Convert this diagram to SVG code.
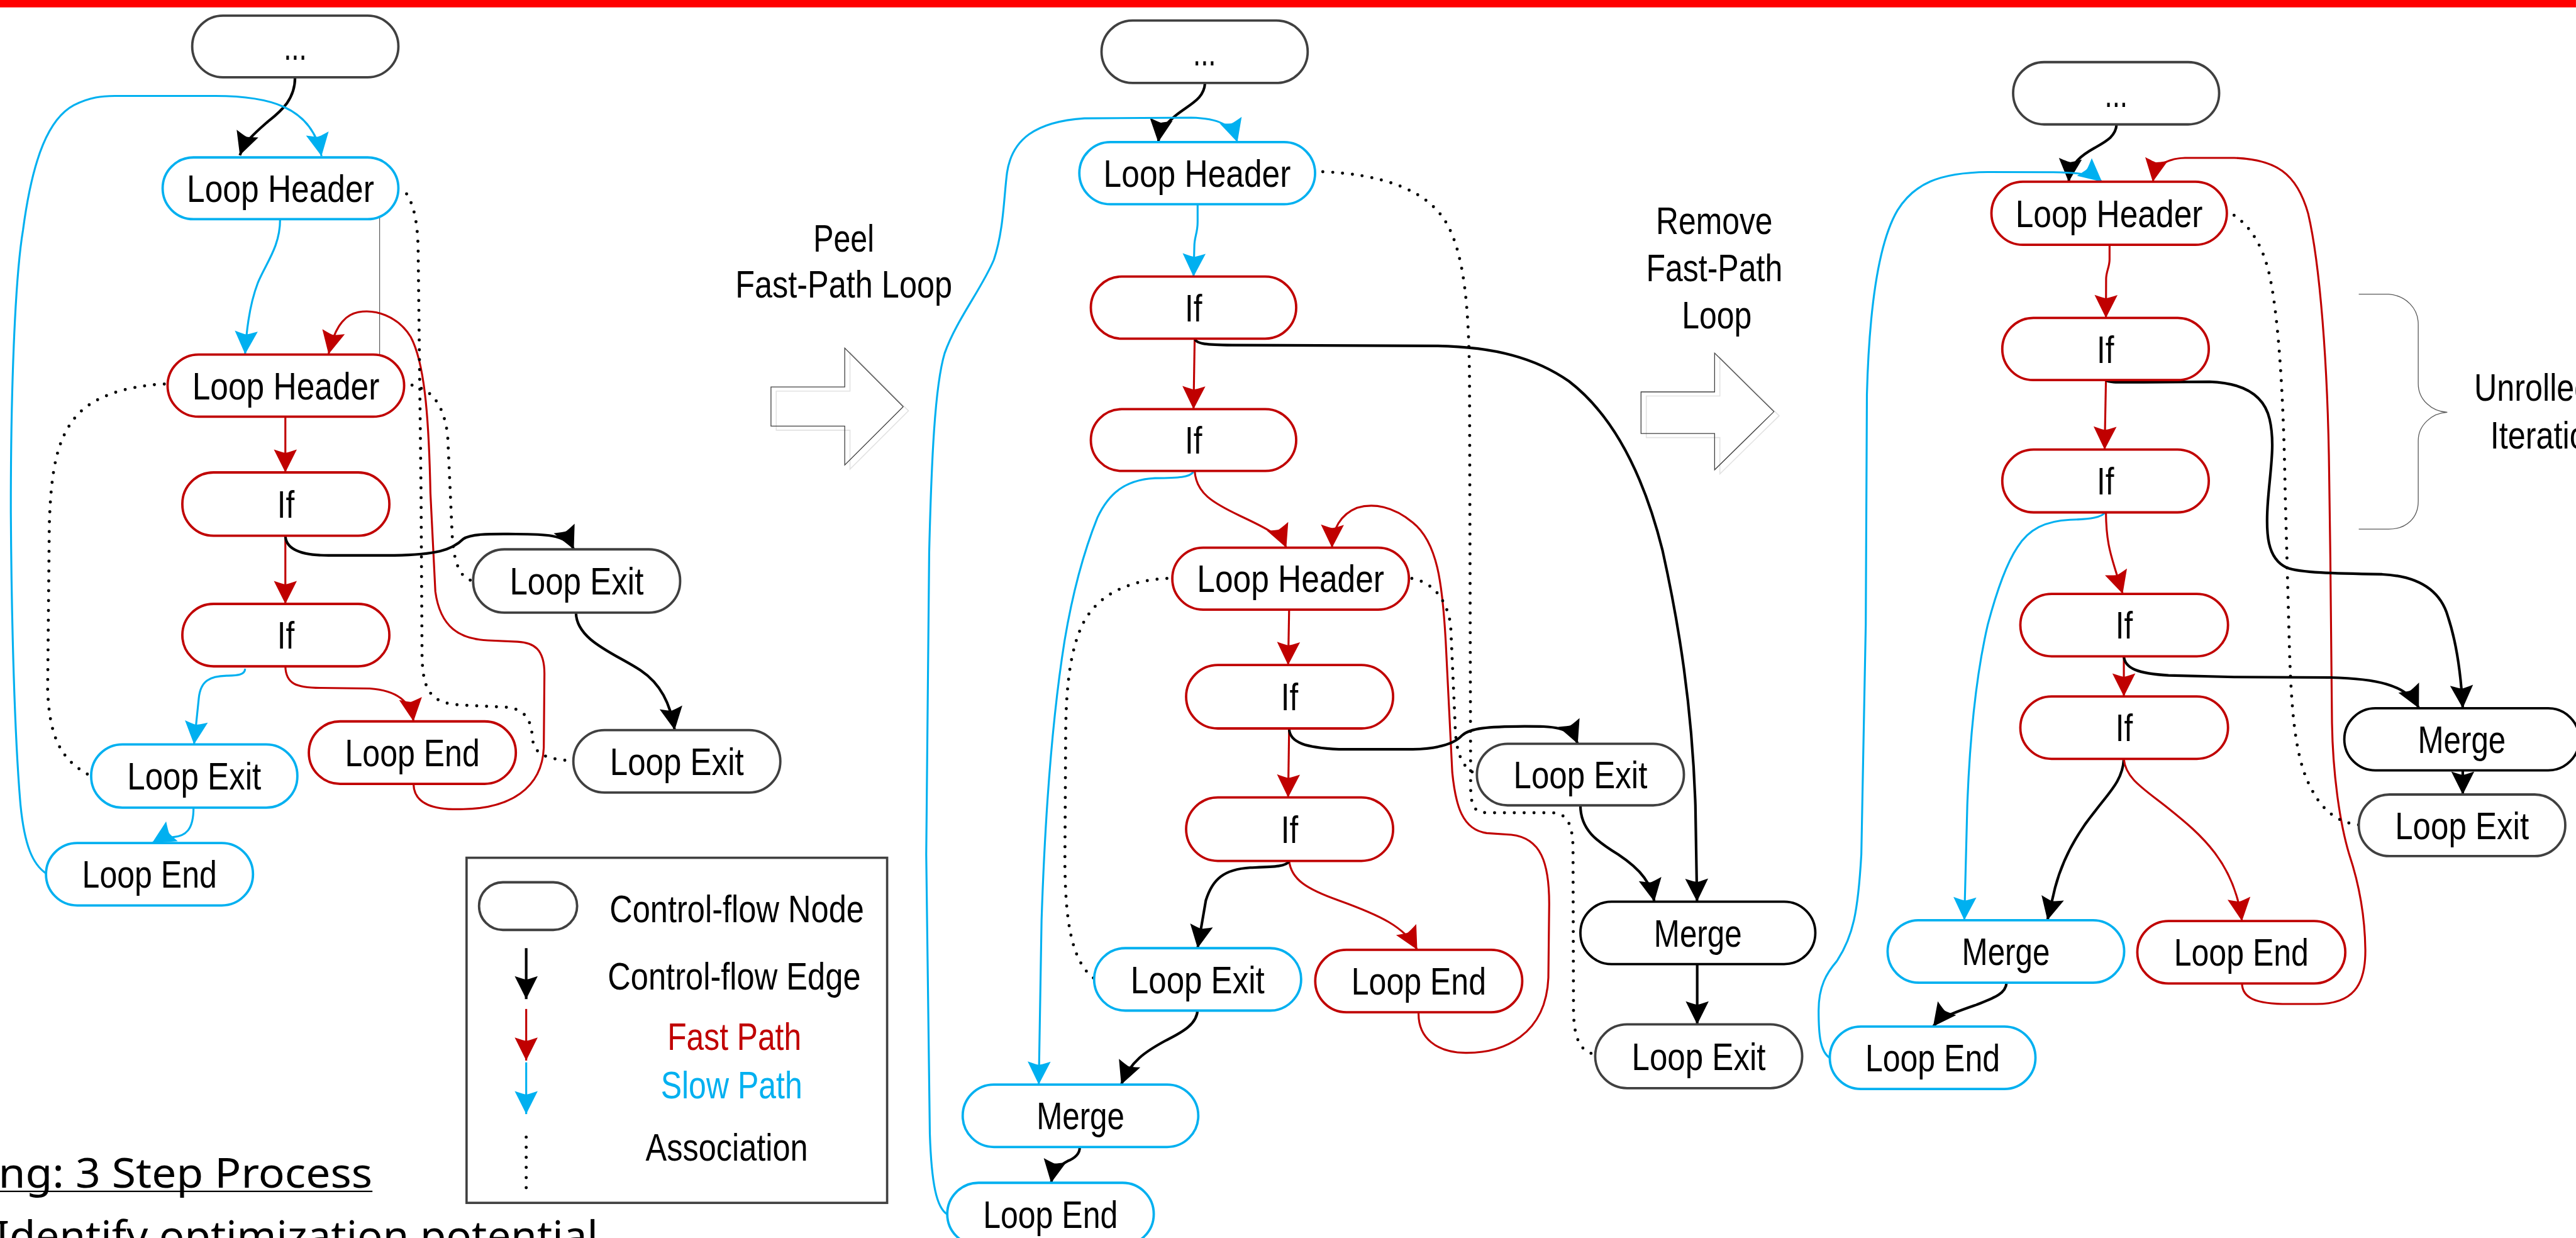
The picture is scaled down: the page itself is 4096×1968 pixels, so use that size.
<svg xmlns="http://www.w3.org/2000/svg" width="4096" height="1968" viewBox="0 0 4096 1968">
<style>
.n{fill:#fff;stroke-width:1.45}
.g{stroke:#404040}.b{stroke:#00B0F0}.r{stroke:#C00000}.k{stroke:#000}
.t{font-family:"Liberation Sans Narrow","Arial Narrow","Liberation Sans",Arial,sans-serif;font-size:23.5px;text-anchor:middle;fill:#000}
.ek{fill:none;stroke:#000;stroke-width:1.6;marker-end:url(#mk)}
.er{fill:none;stroke:#C00000;stroke-width:1.2;marker-end:url(#mr)}
.eb{fill:none;stroke:#00B0F0;stroke-width:1.2;marker-end:url(#mb)}
.d{fill:none;stroke:#000;stroke-width:1.9;stroke-dasharray:0 6;stroke-linecap:round}
.big{fill:none;stroke:#404040;stroke-width:0.5}
.sh{fill:none;stroke:#e2e2e2;stroke-width:0.6}
</style>
<defs>
<marker id="mk" markerUnits="userSpaceOnUse" viewBox="-15 -8 16 16" refX="0" refY="0" markerWidth="16" markerHeight="16" orient="auto" overflow="visible"><path d="M0,0 L-14,-7 Q-12,-1 -12,0 Q-12,1 -14,7 Z" fill="#000"/></marker>
<marker id="mr" markerUnits="userSpaceOnUse" viewBox="-15 -8 16 16" refX="0" refY="0" markerWidth="16" markerHeight="16" orient="auto" overflow="visible"><path d="M0,0 L-14,-7 Q-12,-1 -12,0 Q-12,1 -14,7 Z" fill="#C00000"/></marker>
<marker id="mb" markerUnits="userSpaceOnUse" viewBox="-15 -8 16 16" refX="0" refY="0" markerWidth="16" markerHeight="16" orient="auto" overflow="visible"><path d="M0,0 L-14,-7 Q-12,-1 -12,0 Q-12,1 -14,7 Z" fill="#00B0F0"/></marker>
</defs>
<rect width="4096" height="1968" fill="#fff"/>
<g transform="scale(2.6122)">
<rect x="0" y="0" width="1568" height="4.5" fill="#FF0000"/>

<!-- transition arrows and labels -->
<g id="peel">
<polygon class="sh" points="472.5,238 517.4,238 517.4,214.3 553,250 517.4,285.5 517.4,261.8 472.5,261.8"/>
<polygon class="big" points="469.3,235.5 514.2,235.5 514.2,211.8 549.8,247.5 514.2,283 514.2,259.3 469.3,259.3"/>
<text class="t" x="513.6" y="153" textLength="37" lengthAdjust="spacingAndGlyphs">Peel</text>
<text class="t" x="513.6" y="181.2" textLength="132" lengthAdjust="spacingAndGlyphs">Fast-Path Loop</text>
</g>
<g id="remove">
<polygon class="sh" points="1002.1,241 1046.9,241 1046.9,217.4 1083,253 1046.9,288.4 1046.9,266.3 1002.1,266.3"/>
<polygon class="big" points="998.9,238.5 1043.7,238.5 1043.7,214.9 1079.8,250.5 1043.7,285.9 1043.7,263.8 998.9,263.8"/>
<text class="t" x="1043.5" y="142.4" textLength="71" lengthAdjust="spacingAndGlyphs">Remove</text>
<text class="t" x="1043.5" y="171" textLength="83" lengthAdjust="spacingAndGlyphs">Fast-Path</text>
<text class="t" x="1045" y="199.8" textLength="42.5" lengthAdjust="spacingAndGlyphs">Loop</text>
</g>
<g id="unrolled">
<path d="M1435.8,179 L1454,179 C1465,180 1472,188 1472,197.4 L1472,233.5 C1472,243 1480,250.5 1489.7,250.9 C1480,251.3 1472,259 1472,268.2 L1472,305 C1472,315 1465,322 1454,322 L1435.8,322" fill="none" stroke="#595959" stroke-width="0.5"/>
<text class="t" x="1506" y="244" style="text-anchor:start" textLength="71.7" lengthAdjust="spacingAndGlyphs">Unrolled</text>
<text class="t" x="1515.9" y="272.8" style="text-anchor:start" textLength="79.3" lengthAdjust="spacingAndGlyphs">Iterations</text>
</g>

<!-- connectors -->
<g id="connectors">
<!-- panel 1 -->
<path class="ek" d="M179.6,47 C179.6,60 172,67 163,74 C155,81 149,86 146,94.5"/>
<path class="eb" d="M28,531.5 C20,526 15,515 12.5,490 C9,450 7,380 6.6,312 C6.5,240 9,170 14,140 C20,95 30,72 45,64 C55,59 62,58.5 70,58.4 L131,58.4 C162,58.4 190,64 195.7,95"/>
<path class="eb" d="M170.5,133.5 C170.5,150 162,160 157,172 C152,185 150,200 149.2,215.5"/>
<line x1="231.1" y1="131.7" x2="231.1" y2="215.6" stroke="#222" stroke-width="0.35"/>
<path class="er" d="M251.7,477 C252,490 265,493 282,492.4 C310,492 330,480 331,455 L331.4,410 C331.4,395 325,391 315,390.5 L297,389.7 C280,389 268,382 265,360 L262,300 C261,250 258,220 250,205 C242,192 228,188 218,190 C208,192 203,202 200,215.5"/>
<path class="er" d="M173.7,253.6 L173.7,287.5"/>
<path class="er" d="M173.7,326 L173.7,367.5"/>
<path class="ek" d="M173.7,326 C174,335 185,338 200,338 L240,338 C265,337.5 275,335 282,328 C287,324.5 300,325 314,325 C330,325 345,325 349.3,334.3"/>
<path class="er" d="M173.7,405.5 C174,416 180,418.5 195,418.6 L225,419 C240,420 250,426 251.7,439"/>
<path class="eb" d="M149.2,407 C149,411 144,411 138,411.2 C128,411.5 122,414 121,425 L118.1,453"/>
<path class="eb" d="M117.8,491.5 C117.8,505 113,509 105,509.5 C100,510 96,511 92.6,513"/>
<path class="ek" d="M350.6,373 C351,390 375,398 390,408 C402,416 408,428 410.7,444.3"/>
<path class="d" d="M247.5,118 C252,125 254,135 254.5,150 L256.3,300 L256.9,400 C257.5,420 262,428 280,429 L307,430.3 C318,431 323,436 324,448 C324.5,458 330,462 349,463"/>
<path class="d" d="M250.8,234.4 C262,237 270,245 272.5,265 L275,320 C275.5,340 279,352 288,353.5"/>
<path class="d" d="M100,233.7 C75,235 55,242 45,255 C35,268 31,285 30,320 L29,420 C30,445 35,462 55,472"/>

<!-- panel 2 -->
<path class="ek" d="M733.5,50.5 C733,60 725,63 716,70 C710,75 706,79 705,86.5"/>
<path class="eb" d="M576.6,739 C570,735 567,720 566,690 L563.8,520 L565.6,336 C567,280 569,235 575,215 C582,195 598,175 605,158 C611,140 611,120 613,105 C616,85 630,74 660,72 L725,71.6 C742,72 750,76 753.2,86.5"/>
<path class="eb" d="M729,124.3 L729,135 C729,142 727,144 727,150 L726.5,168.3"/>
<path class="er" d="M727.2,206.1 L726.5,249"/>
<path class="ek" d="M727.2,206 C728,209.5 735,209.8 750,210 L874,210.5 C910,211 935,218 955,232 C985,255 1002,295 1012,335 C1022,380 1030,430 1032,490 L1033,548.7"/>
<path class="er" d="M727.2,286.5 C728,300 738,306 755,314 C770,321 780,326 783,333.3"/>
<path class="eb" d="M726.4,287.2 C724,290.5 718,290.8 703,291 C685,292 675,300 668,315 C660,335 653,360 648,390 C640,440 636,500 634,560 L632.3,660"/>
<path class="er" d="M784.7,371 L784.1,404.7"/>
<path class="er" d="M863.5,616 C863,632 875,640.5 892,640.7 C915,641 941,630 942.5,595 L943,550 C943,525 938,510 920,508 L905,507 C890,505 886,490 884,470 L880,390 C878,355 875,330 860,318 C848,308 836,306 826,309 C816,313 811,322 810.8,333.3"/>
<path class="er" d="M784.7,443.3 L784.1,485.3"/>
<path class="ek" d="M784.7,443.5 C785,452 795,455 815,456 L860,456 C878,455.5 886,452 890,447.5 C895,443 905,442.2 928,442 C945,442 956,442 960.4,452.6"/>
<path class="er" d="M784.7,524 C786,535 795,541 815,548 C840,557 855,564 862.7,578"/>
<path class="ek" d="M784.7,524 C783,527.5 775,527.5 761,528 C745,529 738,535 734,548 L729,577"/>
<path class="ek" d="M962,490 C962,505 972,512 985,520 C1000,530 1005,538 1007,548.7"/>
<path class="ek" d="M1033.1,586.7 L1033.1,623.4"/>
<path class="ek" d="M729,614 C729,623 720,628 710,633 C697,640 688,646 682.5,660"/>
<path class="ek" d="M657.2,698 C657.5,702 654,705 650,706.5 C645,709 641,713 639.8,719.8"/>
<path class="d" d="M805.2,104.5 C840,106 868,115 880,135 C892,155 894,190 894.5,230 L895.2,480 C895.5,490 897,494.5 905,494.6 L945,494.6 C953,495 957,500 957.5,515 L957.8,615 C958,632 962,640 970.5,641.5"/>
<path class="d" d="M859.4,352 C870,354 880,362 883,380 L885.7,440 C886,458 890,468 899,471"/>
<path class="d" d="M710.3,352 C690,353 670,360 660,378 C652,393 649,415 648.7,445 L648.2,525 C648.5,560 652,585 666,595.5"/>

<!-- panel 3 -->
<path class="ek" d="M1288.4,75.5 C1288,83 1282,86 1275,90 C1266,95 1260,100 1259.2,110.6"/>
<path class="eb" d="M1113.8,643.8 C1108,640 1107,630 1107,615 C1107,600 1112,592 1118,585 C1128,570 1131,555 1133,520 L1135.7,380 L1136.4,240 C1138,180 1145,145 1155,128 C1165,112 1180,105 1210,104.7 L1250,104.8 C1265,105 1274,106 1279.5,110.6"/>
<path class="er" d="M1364.7,598.5 C1365,607 1372,611 1393,611 L1410,611 C1432,611 1440,600 1439.8,578 C1439.5,555 1435,535 1430,520 C1424,500 1420,470 1419.5,440 L1418.5,340 L1417.8,290 C1417,220 1412,160 1405,130 C1398,105 1385,97 1360,96.1 L1330,96.1 C1318,96.5 1312,101 1310.4,110.6"/>
<path class="er" d="M1284.1,149 L1284.1,158 C1284,163 1282,165 1282,170 L1281.9,193.5"/>
<path class="er" d="M1281.9,231.3 L1281.1,273.6"/>
<path class="ek" d="M1281.9,231.2 C1283,233 1290,232.6 1305,232.6 L1345,232.3 C1365,233 1378,240 1381.5,255 C1385,270 1382,285 1380.5,305 C1379,325 1380,340 1392,345.5 C1400,348.5 1420,349 1450,349.5 C1470,350.5 1485,358 1490,375 C1495,390 1498,410 1499.1,431"/>
<path class="eb" d="M1281.9,311.2 C1280,315 1272,316 1260,316.3 C1245,317 1235,322 1228,333 C1220,345 1214,365 1210,380 C1203,410 1199,450 1197.5,490 L1195.7,560"/>
<path class="er" d="M1281.9,311.7 C1282,330 1285,338 1288,348 L1292.1,361.4"/>
<path class="er" d="M1292.8,399.4 L1292.8,423.8"/>
<path class="ek" d="M1292.8,399 C1293,407 1302,410 1320,411 L1360,412 L1418.5,412.3 C1445,413 1465,416 1472.4,431"/>
<path class="ek" d="M1292.8,462 C1292,475 1284,482 1275,494 C1262,510 1255,525 1251,540 L1246.3,560"/>
<path class="er" d="M1292.8,462 C1294,474 1305,480 1320,492 C1340,508 1360,525 1364.7,560.5"/>
<path class="ek" d="M1499.1,468.8 L1499.1,483.5"/>
<path class="ek" d="M1221.4,598 C1221,605 1213,607.5 1203,611.5 C1190,616 1181,619 1176.7,624.7"/>
<path class="d" d="M1359.9,131 C1370,138 1378,150 1382,170 C1387,195 1390,240 1391,300 L1393.6,395 C1395,440 1398,465 1408,482 C1415,495 1425,501 1436,502"/>
</g>

<!-- panel 1 nodes -->
<g id="p1_start"><rect class="n g" x="117" y="9.5" width="125.5" height="37.5" rx="18.7"/><text class="t" x="179.7" y="36.5" textLength="14" lengthAdjust="spacingAndGlyphs">...</text></g>
<g id="p1_header_slow"><rect class="n b" x="99" y="95.8" width="143.5" height="37.6" rx="18.8"/><text class="t" x="170.7" y="122.9" textLength="114" lengthAdjust="spacingAndGlyphs">Loop Header</text></g>
<g id="p1_header_fast"><rect class="n r" x="102" y="215.8" width="144" height="37.8" rx="18.9"/><text class="t" x="174" y="243" textLength="114" lengthAdjust="spacingAndGlyphs">Loop Header</text></g>
<g id="p1_if1"><rect class="n r" x="111" y="287.5" width="126" height="38.5" rx="19"/><text class="t" x="174" y="315" textLength="10.5" lengthAdjust="spacingAndGlyphs">If</text></g>
<g id="p1_if2"><rect class="n r" x="111" y="367.5" width="126" height="38" rx="19"/><text class="t" x="174" y="394.8" textLength="10.5" lengthAdjust="spacingAndGlyphs">If</text></g>
<g id="p1_exit1"><rect class="n g" x="288" y="334.3" width="126" height="38.5" rx="19"/><text class="t" x="351" y="361.8" textLength="81.5" lengthAdjust="spacingAndGlyphs">Loop Exit</text></g>
<g id="p1_exit_slow"><rect class="n b" x="55.5" y="453" width="125.5" height="38.5" rx="19"/><text class="t" x="118.2" y="480.5" textLength="81.5" lengthAdjust="spacingAndGlyphs">Loop Exit</text></g>
<g id="p1_end_fast"><rect class="n r" x="188" y="439" width="126" height="38" rx="19"/><text class="t" x="251" y="466.3" textLength="82" lengthAdjust="spacingAndGlyphs">Loop End</text></g>
<g id="p1_exit2"><rect class="n g" x="349" y="444.3" width="126" height="38" rx="19"/><text class="t" x="412" y="471.6" textLength="81.5" lengthAdjust="spacingAndGlyphs">Loop Exit</text></g>
<g id="p1_end_slow"><rect class="n b" x="28" y="513" width="126" height="38" rx="19"/><text class="t" x="91" y="540.3" textLength="82" lengthAdjust="spacingAndGlyphs">Loop End</text></g>

<!-- panel 2 nodes -->
<g id="p2_start"><rect class="n g" x="670.5" y="12.5" width="125.5" height="38" rx="19"/><text class="t" x="733.2" y="39.8" textLength="14" lengthAdjust="spacingAndGlyphs">...</text></g>
<g id="p2_header_slow"><rect class="n b" x="657" y="86.5" width="143.5" height="37.8" rx="18.9"/><text class="t" x="728.7" y="113.7" textLength="114" lengthAdjust="spacingAndGlyphs">Loop Header</text></g>
<g id="p2_if1"><rect class="n r" x="664" y="168.3" width="125" height="37.8" rx="18.9"/><text class="t" x="726.5" y="195.5" textLength="10.5" lengthAdjust="spacingAndGlyphs">If</text></g>
<g id="p2_if2"><rect class="n r" x="664" y="249" width="125" height="37.6" rx="18.8"/><text class="t" x="726.5" y="276.1" textLength="10.5" lengthAdjust="spacingAndGlyphs">If</text></g>
<g id="p2_header_fast"><rect class="n r" x="713.6" y="333.3" width="144" height="37.7" rx="18.8"/><text class="t" x="785.6" y="360.4" textLength="114" lengthAdjust="spacingAndGlyphs">Loop Header</text></g>
<g id="p2_if3"><rect class="n r" x="722" y="404.7" width="126" height="38.6" rx="19.3"/><text class="t" x="785" y="432.3" textLength="10.5" lengthAdjust="spacingAndGlyphs">If</text></g>
<g id="p2_if4"><rect class="n r" x="722" y="485.3" width="126" height="38.6" rx="19.3"/><text class="t" x="785" y="512.9" textLength="10.5" lengthAdjust="spacingAndGlyphs">If</text></g>
<g id="p2_exit_slow"><rect class="n b" x="666" y="577" width="126" height="38" rx="19"/><text class="t" x="729" y="604.3" textLength="81.5" lengthAdjust="spacingAndGlyphs">Loop Exit</text></g>
<g id="p2_end_fast"><rect class="n r" x="800.6" y="578" width="126" height="38" rx="19"/><text class="t" x="863.6" y="605.3" textLength="82" lengthAdjust="spacingAndGlyphs">Loop End</text></g>
<g id="p2_exit1"><rect class="n g" x="899" y="452.6" width="126" height="37.5" rx="18.7"/><text class="t" x="962" y="479.7" textLength="81.5" lengthAdjust="spacingAndGlyphs">Loop Exit</text></g>
<g id="p2_merge"><rect class="n k" x="962" y="548.7" width="143" height="38" rx="19"/><text class="t" x="1033.5" y="576" textLength="53.5" lengthAdjust="spacingAndGlyphs">Merge</text></g>
<g id="p2_exit2"><rect class="n g" x="971" y="623.4" width="126" height="38.8" rx="19.4"/><text class="t" x="1034" y="651.1" textLength="81.5" lengthAdjust="spacingAndGlyphs">Loop Exit</text></g>
<g id="p2_merge_slow"><rect class="n b" x="586" y="660" width="143.4" height="38" rx="19"/><text class="t" x="657.7" y="687.3" textLength="53.5" lengthAdjust="spacingAndGlyphs">Merge</text></g>
<g id="p2_end_slow"><rect class="n b" x="576.6" y="719.8" width="125.7" height="38" rx="19"/><text class="t" x="639.4" y="747.1" textLength="82" lengthAdjust="spacingAndGlyphs">Loop End</text></g>

<!-- panel 3 nodes -->
<g id="p3_start"><rect class="n g" x="1225.4" y="37.8" width="125.4" height="37.9" rx="18.9"/><text class="t" x="1288.1" y="65" textLength="14" lengthAdjust="spacingAndGlyphs">...</text></g>
<g id="p3_header"><rect class="n r" x="1212.2" y="110.6" width="143.3" height="38.4" rx="19.2"/><text class="t" x="1283.8" y="138.1" textLength="114" lengthAdjust="spacingAndGlyphs">Loop Header</text></g>
<g id="p3_if1"><rect class="n r" x="1218.8" y="193.5" width="125.7" height="37.8" rx="18.9"/><text class="t" x="1281.6" y="220.7" textLength="10.5" lengthAdjust="spacingAndGlyphs">If</text></g>
<g id="p3_if2"><rect class="n r" x="1218.8" y="273.6" width="125.7" height="38.2" rx="19.1"/><text class="t" x="1281.6" y="301" textLength="10.5" lengthAdjust="spacingAndGlyphs">If</text></g>
<g id="p3_if3"><rect class="n r" x="1229.8" y="361.4" width="126.4" height="38" rx="19"/><text class="t" x="1293" y="388.7" textLength="10.5" lengthAdjust="spacingAndGlyphs">If</text></g>
<g id="p3_if4"><rect class="n r" x="1229.8" y="423.8" width="126.4" height="38" rx="19"/><text class="t" x="1293" y="451.1" textLength="10.5" lengthAdjust="spacingAndGlyphs">If</text></g>
<g id="p3_merge"><rect class="n k" x="1427" y="431" width="143" height="37.8" rx="18.9"/><text class="t" x="1498.5" y="458.2" textLength="53.5" lengthAdjust="spacingAndGlyphs">Merge</text></g>
<g id="p3_exit"><rect class="n g" x="1435.8" y="483.5" width="125.7" height="37.5" rx="18.7"/><text class="t" x="1498.6" y="510.6" textLength="81.5" lengthAdjust="spacingAndGlyphs">Loop Exit</text></g>
<g id="p3_merge_slow"><rect class="n b" x="1149" y="560" width="144" height="38" rx="19"/><text class="t" x="1221" y="587.3" textLength="53.5" lengthAdjust="spacingAndGlyphs">Merge</text></g>
<g id="p3_end_fast"><rect class="n r" x="1301" y="560.5" width="126.6" height="38" rx="19"/><text class="t" x="1364.3" y="587.8" textLength="82" lengthAdjust="spacingAndGlyphs">Loop End</text></g>
<g id="p3_end_slow"><rect class="n b" x="1113.8" y="624.7" width="125.2" height="38" rx="19"/><text class="t" x="1176.4" y="652" textLength="82" lengthAdjust="spacingAndGlyphs">Loop End</text></g>

<!-- legend -->
<g id="legend">
<rect x="284" y="522" width="256" height="210" fill="none" stroke="#404040" stroke-width="1.4"/>
<rect class="n g" x="291.6" y="536.9" width="59.7" height="29" rx="14.5"/>
<line x1="320.3" y1="577" x2="320.3" y2="608" class="ek"/>
<line x1="320.3" y1="614" x2="320.3" y2="645.4" class="er"/>
<line x1="320.3" y1="646.5" x2="320.3" y2="678" class="eb"/>
<line x1="320.3" y1="692" x2="320.3" y2="723" class="d" style="stroke-dasharray:0 6.15"/>
<text class="t" x="448.5" y="561.4" textLength="155" lengthAdjust="spacingAndGlyphs">Control-flow Node</text>
<text class="t" x="446.9" y="602.3" textLength="154" lengthAdjust="spacingAndGlyphs">Control-flow Edge</text>
<text class="t" x="447" y="639.1" textLength="81.5" lengthAdjust="spacingAndGlyphs" style="fill:#C00000">Fast Path</text>
<text class="t" x="445.3" y="668.4" textLength="86.2" lengthAdjust="spacingAndGlyphs" style="fill:#00B0F0">Slow Path</text>
<text class="t" x="442.4" y="706.3" textLength="98.8" lengthAdjust="spacingAndGlyphs">Association</text>
</g>

<!-- bottom-left text -->
<g id="caption">
<text x="-1" y="722.6" textLength="227.7" lengthAdjust="spacingAndGlyphs" style="font-family:'Noto Sans','Open Sans',sans-serif;font-size:25px;fill:#000">ng: 3 Step Process</text>
<line x1="0" y1="725" x2="226.7" y2="725" stroke="#000" stroke-width="0.9"/>
<text x="-3" y="761" textLength="367" lengthAdjust="spacingAndGlyphs" style="font-family:'Noto Sans','Open Sans',sans-serif;font-size:25px;fill:#000">Identify optimization potential</text>
</g>
</g>
</svg>
